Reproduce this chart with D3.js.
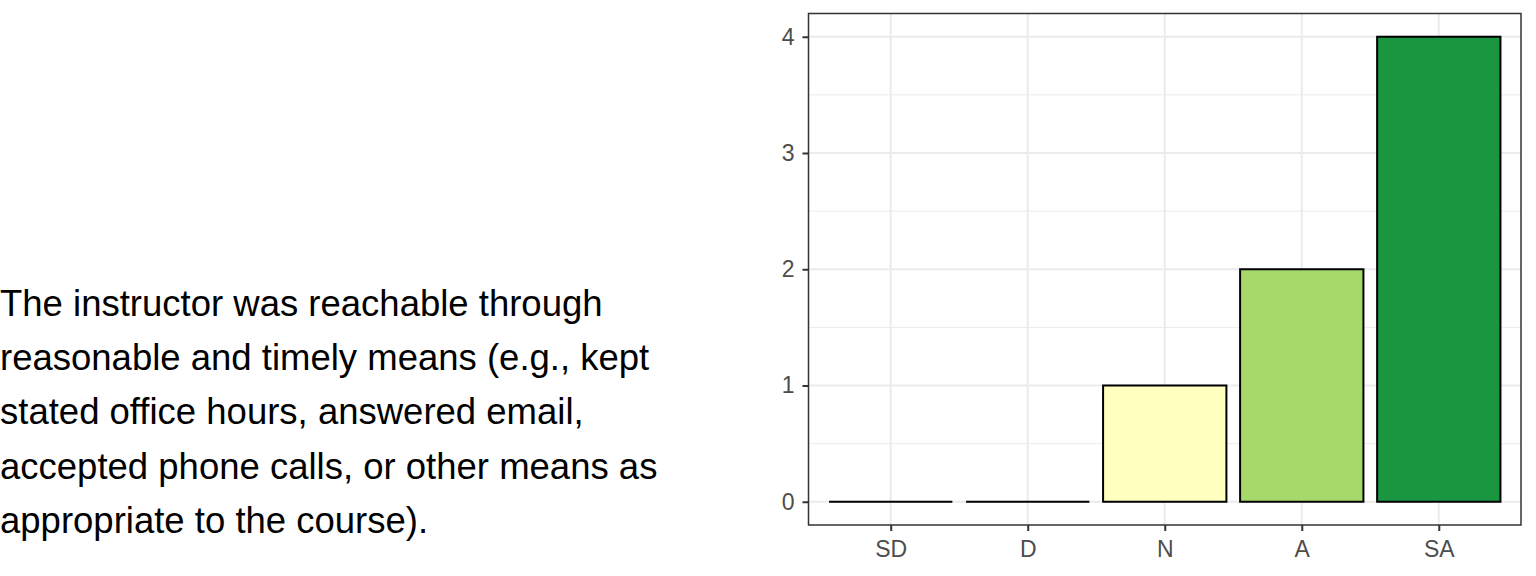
<!DOCTYPE html>
<html><head><meta charset="utf-8">
<script src="https://cdn.jsdelivr.net/npm/d3@7"></script>
<style>body{margin:0;background:#fff}svg{display:block}</style>
</head><body>
<svg id="c" width="1536" height="576"></svg>
<script>
const categories = ["SD","D","N","A","SA"];
const counts = [0,0,1,2,4];
const fills = ["#D7191C","#FDAE61","#FFFFBF","#A6D96A","#1A9641"];
const yTicks = [0,1,2,3,4];
const questionLines = ["The instructor was reachable through","reasonable and timely means (e.g., kept","stated office hours, answered email,","accepted phone calls, or other means as","appropriate to the course)."];

const svg = d3.select("#c");
const P = {l:808.5, r:1521, t:13.5, b:525};
const FONT = "'Liberation Sans', Arial, sans-serif";

// question text
svg.append("g").selectAll("text").data(questionLines).join("text")
  .attr("x",0).attr("y",(d,i)=>316+i*54.2)
  .style("font-family",FONT).style("font-size","36.5px")
  .attr("fill","#000").text(d=>d);

const x = d3.scaleLinear().domain([0.4,5.6]).range([P.l,P.r]);
const y = d3.scaleLinear().domain([-0.2,4.2]).range([P.b,P.t]);
const bw = (x(1)-x(0))*0.9;

const g = svg.append("g");
const minor = [0.5,1.5,2.5,3.5];
g.selectAll(".mn").data(minor).join("line")
  .attr("x1",P.l).attr("x2",P.r).attr("y1",d=>y(d)).attr("y2",d=>y(d))
  .attr("stroke","#ebebeb").attr("stroke-width",1);
g.selectAll(".mj").data(yTicks).join("line")
  .attr("x1",P.l).attr("x2",P.r).attr("y1",d=>y(d)).attr("y2",d=>y(d))
  .attr("stroke","#ebebeb").attr("stroke-width",2);
g.selectAll(".vx").data(categories).join("line")
  .attr("x1",(d,i)=>x(i+1)).attr("x2",(d,i)=>x(i+1)).attr("y1",P.t).attr("y2",P.b)
  .attr("stroke","#ebebeb").attr("stroke-width",2);

// bars (drawn as paths so zero-height bars still show their outline)
g.selectAll(".bar").data(counts).join("path")
  .attr("d",(d,i)=>{const x0=x(i+1)-bw/2, x1=x(i+1)+bw/2, y0=y(0), y1=y(d);
    return `M${x0},${y0}L${x0},${y1}L${x1},${y1}L${x1},${y0}Z`;})
  .attr("fill",(d,i)=>fills[i]).attr("stroke","#000").attr("stroke-width",2).attr("stroke-linejoin","miter");

g.append("rect").attr("x",P.l).attr("y",P.t).attr("width",P.r-P.l).attr("height",P.b-P.t)
  .attr("fill","none").attr("stroke","#333").attr("stroke-width",1.5);

const ya = svg.append("g").attr("transform",`translate(${P.l},0)`)
  .call(d3.axisLeft(y).tickValues(yTicks).tickSize(6).tickPadding(8).tickFormat(d3.format("d")));
ya.select(".domain").remove();
ya.selectAll("line").attr("stroke","#333").attr("stroke-width",2);
ya.selectAll("text").attr("fill","#4d4d4d").style("font-size","23px").style("font-family",FONT);

const xa = svg.append("g").attr("transform",`translate(0,${P.b})`)
  .call(d3.axisBottom(x).tickValues([1,2,3,4,5]).tickSize(6).tickPadding(10).tickFormat(d=>categories[d-1]));
xa.select(".domain").remove();
xa.selectAll("line").attr("stroke","#333").attr("stroke-width",2);
xa.selectAll("text").attr("fill","#4d4d4d").style("font-size","23px").style("font-family",FONT);
</script>
</body></html>
